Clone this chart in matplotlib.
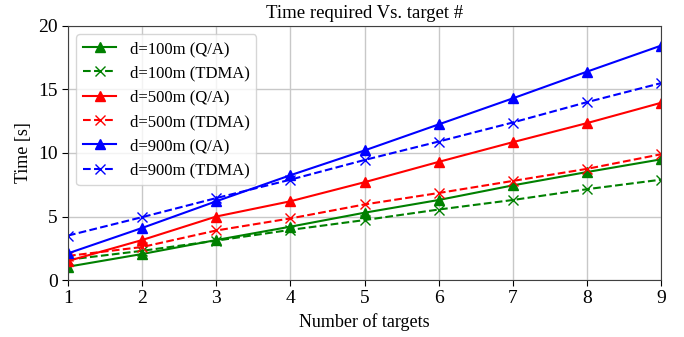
import matplotlib
matplotlib.use("Agg")
import matplotlib.pyplot as plt

plt.rcParams['font.family'] = ['Liberation Serif', 'DejaVu Serif']

targets = [1, 2, 3, 4, 5, 6, 7, 8, 9]

# d=100m
qa_100 = [1.05, 2.05, 3.15, 4.2, 5.3, 6.3, 7.45, 8.5, 9.5]
tdma_100 = [1.6, 2.3, 3.1, 3.95, 4.72, 5.55, 6.3, 7.15, 7.9]
# d=500m
qa_500 = [1.5, 3.15, 5.0, 6.2, 7.7, 9.3, 10.85, 12.35, 13.95]
tdma_500 = [1.9, 2.6, 3.9, 4.85, 5.95, 6.85, 7.8, 8.75, 9.9]
# d=900m
qa_900 = [2.1, 4.1, 6.2, 8.25, 10.2, 12.25, 14.3, 16.4, 18.45]
tdma_900 = [3.5, 4.95, 6.45, 7.9, 9.45, 10.9, 12.4, 14.0, 15.5]

fig = plt.figure(figsize=(6.84, 3.37), dpi=100)
ax = fig.add_axes([0.0994, 0.169, 0.8670, 0.754])

ms = 7
ax.plot(targets, qa_100, '-', color='green', marker='^', markersize=ms, label='d=100m (Q/A)')
ax.plot(targets, tdma_100, '--', color='green', marker='x', markersize=ms, label='d=100m (TDMA)')
ax.plot(targets, qa_500, '-', color='red', marker='^', markersize=ms, label='d=500m (Q/A)')
ax.plot(targets, tdma_500, '--', color='red', marker='x', markersize=ms, label='d=500m (TDMA)')
ax.plot(targets, qa_900, '-', color='blue', marker='^', markersize=ms, label='d=900m (Q/A)')
ax.plot(targets, tdma_900, '--', color='blue', marker='x', markersize=ms, label='d=900m (TDMA)')

ax.set_xlim(1, 9)
ax.set_ylim(0, 20)
ax.set_xticks(targets)
ax.set_yticks([0, 5, 10, 15, 20])
ax.tick_params(labelsize=14, direction='out', length=4)
ax.grid(True, color='#c8c8c8', linewidth=1)
ax.set_axisbelow(True)
for s in ax.spines.values():
    s.set_color('#404040')

ax.set_xlabel('Number of targets', fontsize=13)
ax.set_ylabel('Time [s]', fontsize=13)
ax.set_title('Time required Vs. target #', fontsize=13.5)
ax.legend(loc='upper left', fontsize=12, framealpha=0.8)

fig.savefig('out.png', dpi=100)
